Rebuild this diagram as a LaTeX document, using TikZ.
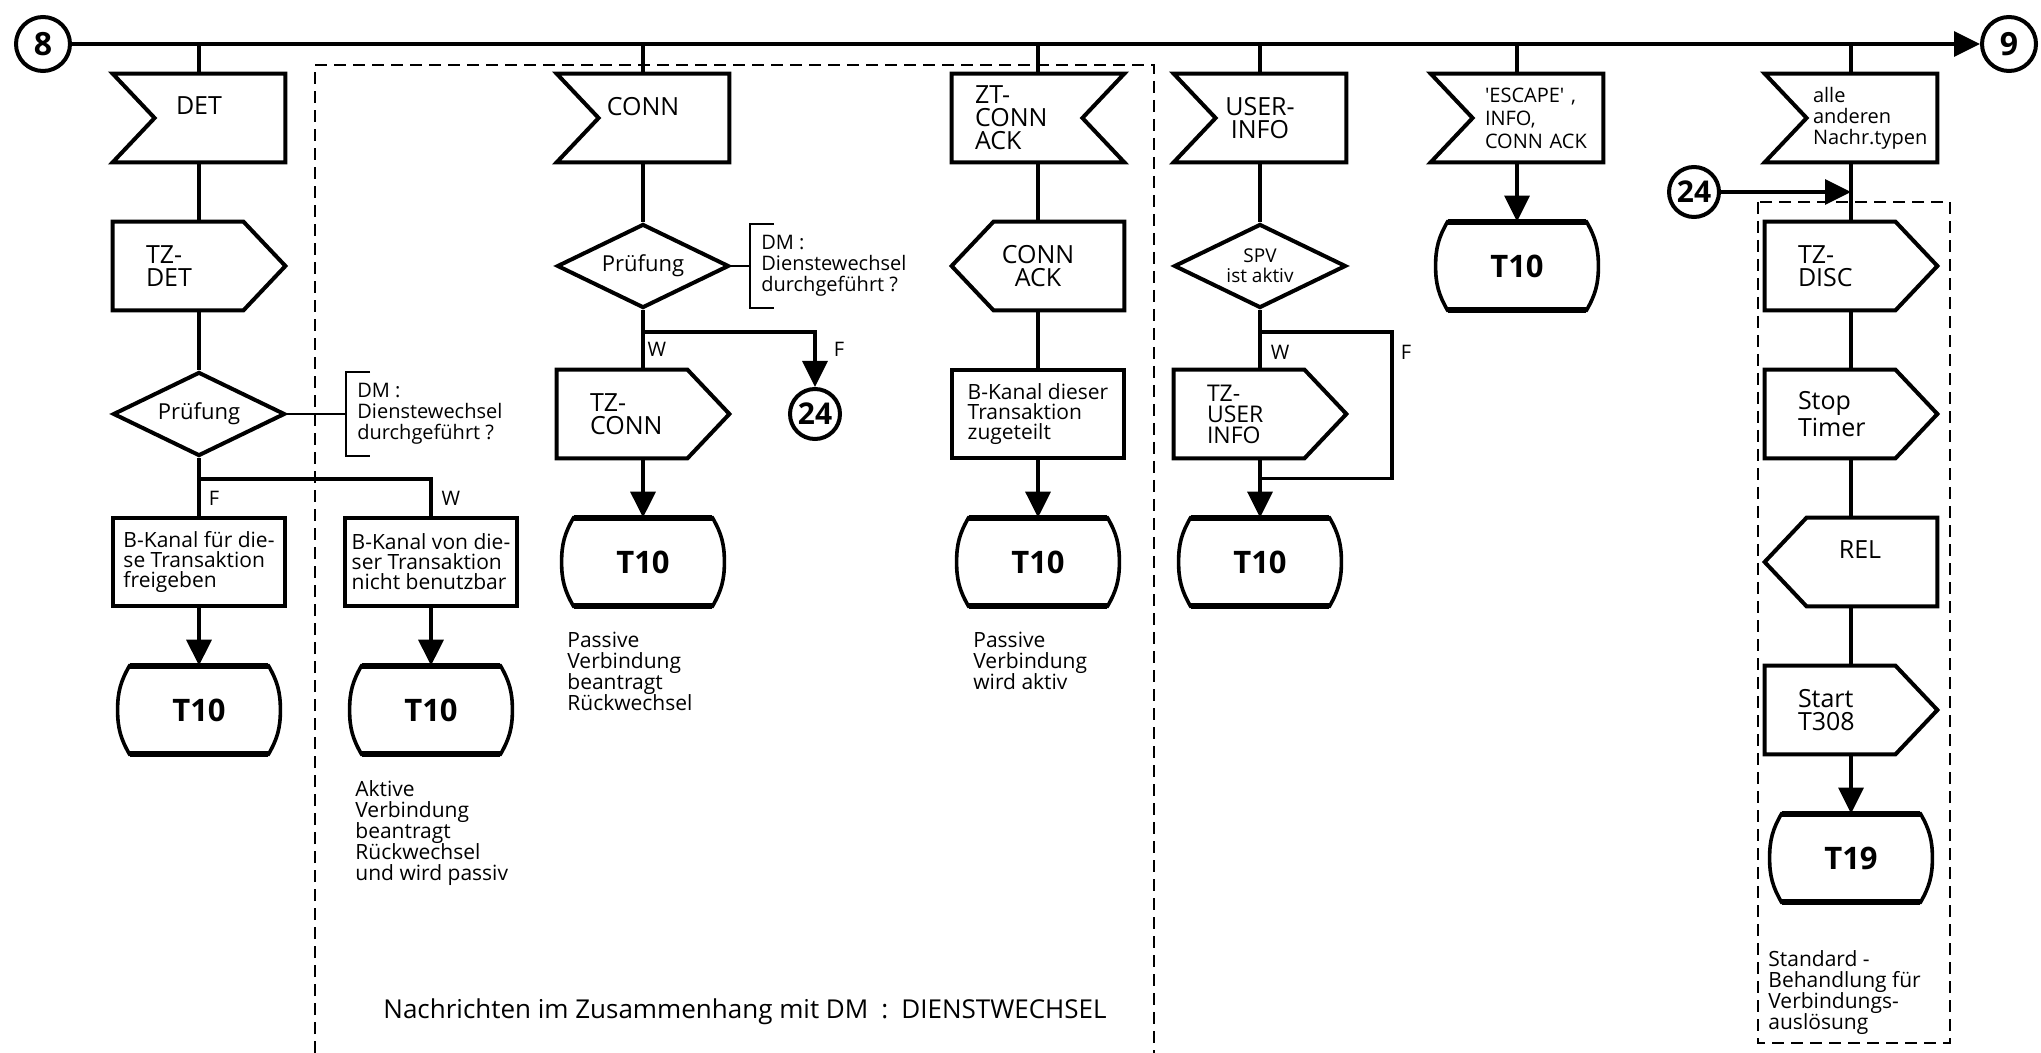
\documentclass[tikz,border=0pt]{standalone}
\usepackage{fontspec}
\setmainfont{Open Sans}
\usetikzlibrary{arrows.meta,shapes.geometric,positioning}

\tikzset{
  ln/.style={line width=1.7pt},
  thinln/.style={line width=1pt},
  fl/.style={line width=2pt, line join=miter},
  arr/.style={ln, -{Triangle[length=13pt,width=12.5pt]}},
  dashbox/.style={line width=1pt, dash pattern=on 6pt off 3.5pt},
  symfont/.style={font=\fontsize{12.5}{11.5}\selectfont},
  sym/.style={symfont, minimum width=86pt, minimum height=44pt, inner sep=0pt},
  raised/.style={text depth=12pt},
  recvl/.style={sym, align=center,
    append after command={\pgfextra{\draw[fl] (\tikzlastnode.north west) -- (\tikzlastnode.north east)
      -- (\tikzlastnode.south east) -- (\tikzlastnode.south west) -- ([xshift=21pt]\tikzlastnode.west) -- cycle;}}},
  recvr/.style={sym, inner xsep=11.5pt, text width=63pt, align=left,
    append after command={\pgfextra{\draw[fl] (\tikzlastnode.north west) -- (\tikzlastnode.north east)
      -- ([xshift=-21pt]\tikzlastnode.east) -- (\tikzlastnode.south east) -- (\tikzlastnode.south west) -- cycle;}}},
  sendr/.style={sym, inner xsep=16.5pt, text width=53pt, align=left,
    append after command={\pgfextra{\draw[fl] (\tikzlastnode.north west) -- ([xshift=-21pt]\tikzlastnode.north east)
      -- (\tikzlastnode.east) -- ([xshift=-21pt]\tikzlastnode.south east) -- (\tikzlastnode.south west) -- cycle;}}},
  sendl/.style={sym, align=center,
    append after command={\pgfextra{\draw[fl] ([xshift=21pt]\tikzlastnode.north west) -- (\tikzlastnode.north east)
      -- (\tikzlastnode.south east) -- ([xshift=21pt]\tikzlastnode.south west) -- (\tikzlastnode.west) -- cycle;}}},
  stepbox/.style={draw, fl, font=\fontsize{10.5}{10}\selectfont, minimum width=86pt, minimum height=44pt,
    inner xsep=3pt, align=left},
  termbox/.style={font=\fontsize{15.5}{15.5}\selectfont\bfseries, minimum width=81pt, minimum height=44pt, inner sep=0pt,
    append after command={\pgfextra{
      \draw[line width=1.8pt] ([xshift=6pt]\tikzlastnode.north west) -- ([xshift=-6pt]\tikzlastnode.north east)
        to[out=-60,in=90] (\tikzlastnode.east) to[out=-90,in=60] ([xshift=-6pt]\tikzlastnode.south east)
        -- ([xshift=6pt]\tikzlastnode.south west) to[out=120,in=-90] (\tikzlastnode.west)
        to[out=90,in=-120] ([xshift=6pt]\tikzlastnode.north west) -- cycle;
      \draw[line width=3pt] ([xshift=6pt]\tikzlastnode.north west) -- ([xshift=-6pt]\tikzlastnode.north east);
      \draw[line width=3pt] ([xshift=6pt]\tikzlastnode.south west) -- ([xshift=-6pt]\tikzlastnode.south east);}}},
  dia/.style={diamond, draw, fl, aspect=2, minimum width=86pt, minimum height=42pt, inner sep=0pt,
    font=\fontsize{11}{11}\selectfont, align=center},
  notebr/.style={font=\fontsize{10}{10.5}\selectfont, align=left, inner xsep=5.5pt, inner ysep=0pt,
    minimum height=42pt,
    append after command={\pgfextra{\draw[thinln] ([xshift=12pt]\tikzlastnode.north west) -- (\tikzlastnode.north west)
      -- (\tikzlastnode.south west) -- ([xshift=12pt]\tikzlastnode.south west);}}},
  txtnote/.style={font=\fontsize{10.5}{10.5}\selectfont, align=left, inner sep=0pt},
  lbl/.style={font=\fontsize{10}{10}\selectfont, inner sep=0pt},
  numcirc/.style={circle, draw, line width=2pt, minimum size=25pt, inner sep=0pt,
    font=\fontsize{15}{15}\selectfont\bfseries},
  bigcirc/.style={numcirc, minimum size=27pt, font=\fontsize{16}{16}\selectfont\bfseries}
}

\begin{document}
\begin{tikzpicture}[x=0.5pt, y=-0.5pt, node distance=74pt]
  \useasboundingbox (0,0) rectangle (2041,1053);

  % bus
  \node[bigcirc] (c8) at (43,44) {8};
  \node[bigcirc] (c9) at (2009,44) {9};

  % DET
  \node[recvl, raised] (det) at (199,118) {DET};
  \node[sendr] (tzdet) [below of=det] {TZ-\\DET};
  \node[dia] (pdet) [below of=tzdet] {Prüfung};
  \node[notebr, anchor=west] (ndet) at (346,414) {DM :\\Dienstewechsel\\durchgeführt ?};
  \node[stepbox] (bdet1) [below of=pdet] {B-Kanal für die-\\se Transaktion\\freigeben};
  \node[stepbox] (bdet2) [right of=bdet1, node distance=116pt] {B-Kanal von die-\\ser Transaktion\\nicht benutzbar};
  \node[termbox] (tdet1) [below of=bdet1] {T10};
  \node[termbox] (tdet2) [below of=bdet2] {T10};
  \node[lbl] (fdet) at (214,498) {F};
  \node[lbl] (wdet) at (451,498) {W};
  \node[txtnote, anchor=north west] (adet) at (355,780) {Aktive\\Verbindung\\beantragt\\Rückwechsel\\und wird passiv};

  % CONN
  \node[recvl, raised] (conn) at (643,118) {CONN};
  \node[dia] (pconn) [below of=conn] {Prüfung};
  \node[notebr, anchor=west] (nconn) at (750,266) {DM :\\Dienstewechsel\\durchgeführt ?};
  \node[sendr] (tzconn) [below of=pconn] {TZ-\\CONN};
  \node[numcirc] (c24a) [right of=tzconn, node distance=86pt] {24};
  \node[termbox] (tconn) [below of=tzconn] {T10};
  \node[lbl] (wconn) at (657,349) {W};
  \node[lbl] (fconn) at (839,349) {F};
  \node[txtnote, anchor=north west] (aconn) at (567,632) {Passive\\Verbindung\\beantragt\\Rückwechsel};

  % ZT-CONN ACK
  \node[recvr] (ztca) at (1038,118) {ZT-\\CONN\\ACK};
  \node[sendl] (connack) [below of=ztca] {CONN\\ACK};
  \node[stepbox] (bzt) [below of=connack] {B-Kanal dieser\\Transaktion\\zugeteilt};
  \node[termbox] (tzt) [below of=bzt] {T10};
  \node[txtnote, anchor=north west] (azt) at (973,632) {Passive\\Verbindung\\wird aktiv};

  % USER-INFO
  \node[recvl] (uinfo) at (1260,118) {USER-\\INFO};
  \node[dia, font=\fontsize{9.5}{10}\selectfont] (spv) [below of=uinfo] {SPV\\ist aktiv};
  \node[sendr, font=\fontsize{11.5}{10.5}\selectfont] (tzuser) [below of=spv] {TZ-\\USER\\INFO};
  \node[termbox] (tuser) [below of=tzuser] {T10};
  \node[lbl] (wuser) at (1280,352) {W};
  \node[lbl] (fuser) at (1406,352) {F};

  % ESCAPE
  \node[recvl, font=\fontsize{10}{11.5}\selectfont, inner xsep=27pt, text width=32pt, align=left] (esc) at (1517,118)
    {\textquotesingle ESCAPE\textquotesingle~,\\INFO,\\CONN~ACK};
  \node[termbox] (tesc) [below of=esc] {T10};

  % alle anderen
  \node[recvl, font=\fontsize{10}{10.5}\selectfont, inner xsep=24pt, text width=38pt, align=left] (alle) at (1851,118)
    {alle\\anderen\\Nachr.typen};
  \node[sendr] (tzdisc) [below of=alle] {TZ-\\DISC};
  \node[sendr] (stop) [below of=tzdisc] {Stop\\Timer};
  \node[sendl, raised] (rel) [below of=stop] {\hspace*{9pt}REL};
  \node[sendr] (start) [below of=rel] {Start\\T308};
  \node[termbox] (t19) [below of=start] {T19};
  \node[numcirc] (c24b) at (1694,192) {24};
  \node[txtnote, anchor=north west] (astd) at (1768,950) {Standard -\\Behandlung für\\Verbindungs-\\auslösung};

  \node[font=\fontsize{13}{13}\selectfont] (dmtitle) at (745,1012) {Nachrichten im Zusammenhang mit DM\enspace:\enspace DIENSTWECHSEL};

  % frames
  \draw[dashbox] (315,1053) |- (1154,65) -- (1154,1053);
  \draw[dashbox] (1758,202) rectangle (1950,1043);

  % connectors
  \draw[arr] (c8) -- (c9);
  \foreach \n in {det,conn,ztca,uinfo,esc,alle}
    \draw[ln] (\n) -- (\n |- c8);
  \draw[ln] (det) -- (tzdet);
  \draw[ln] (tzdet) -- (pdet);
  \draw[thinln] (pdet) -- (ndet);
  \draw[ln] (pdet) -- (bdet1);
  \draw[ln] (pdet.south) -- ++(0,21) -| (bdet2);
  \draw[arr] (bdet1) -- (tdet1);
  \draw[arr] (bdet2) -- (tdet2);

  \draw[ln] (conn) -- (pconn);
  \draw[thinln] (pconn) -- (nconn);
  \draw[ln] (pconn) -- (tzconn);
  \draw[arr] (pconn.south) -- ++(0,22) -| (c24a);
  \draw[arr] (tzconn) -- (tconn);

  \draw[ln] (ztca) -- (connack);
  \draw[ln] (connack) -- (bzt);
  \draw[arr] (bzt) -- (tzt);

  \draw[ln] (uinfo) -- (spv);
  \draw[ln] (spv) -- (tzuser);
  \draw[ln] (spv.south) -- ++(0,22) -| ([xshift=66pt,yshift=-10pt]tzuser.south) -- ([yshift=-10pt]tzuser.south);
  \draw[arr] (tzuser) -- (tuser);

  \draw[arr] (esc) -- (tesc);

  \draw[ln] (alle) -- (tzdisc);
  \draw[arr] (c24b) -- (c24b -| alle);
  \draw[ln] (tzdisc) -- (stop);
  \draw[ln] (stop) -- (rel);
  \draw[ln] (rel) -- (start);
  \draw[arr] (start) -- (t19);
\end{tikzpicture}
\end{document}
